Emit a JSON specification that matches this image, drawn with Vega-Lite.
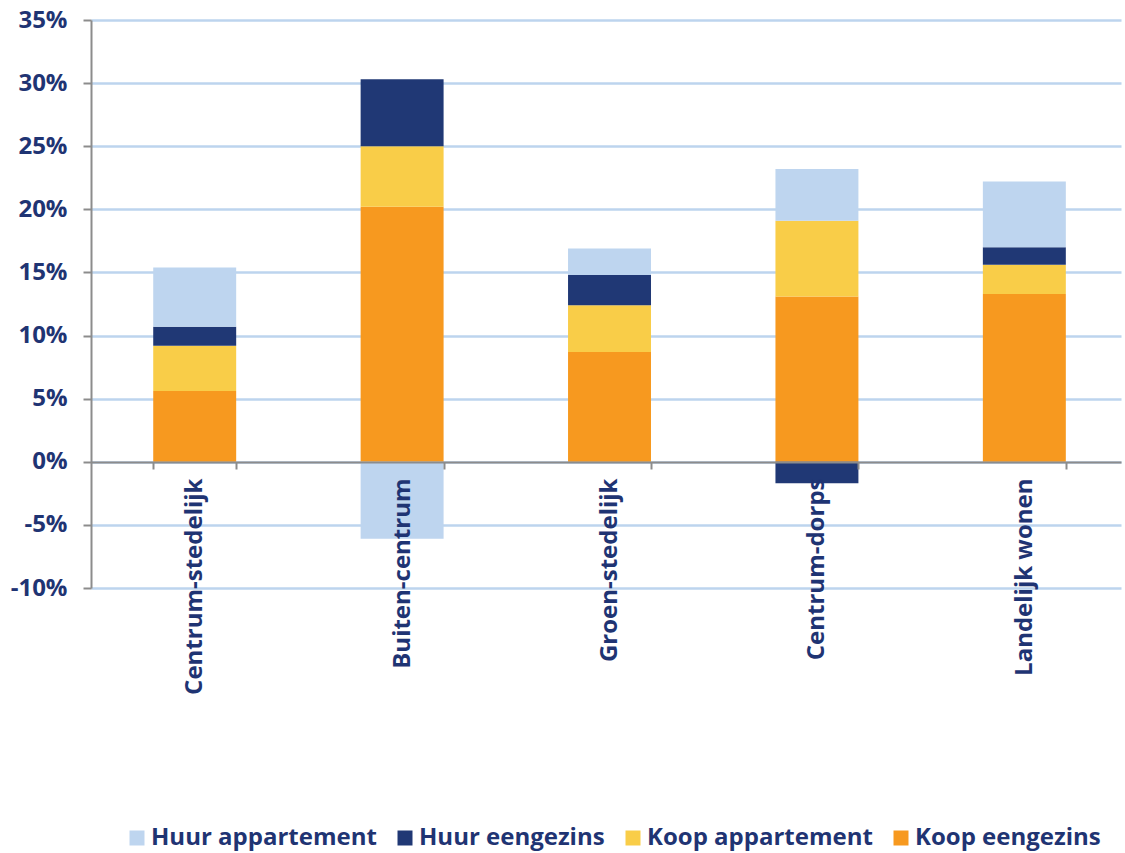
{
  "$schema": "https://vega.github.io/schema/vega-lite/v6.json",
  "autosize": {"type": "none"},
  "width": 1030,
  "height": 568,
  "padding": {"left": 91, "top": 20, "right": 4, "bottom": 265},
  "background": "white",
  "data": {
    "values": [
      {"woonmilieu": "Centrum-stedelijk", "type": "Koop eengezins", "aandeel": 5.6},
      {"woonmilieu": "Centrum-stedelijk", "type": "Koop appartement", "aandeel": 3.6},
      {"woonmilieu": "Centrum-stedelijk", "type": "Huur eengezins", "aandeel": 1.5},
      {"woonmilieu": "Centrum-stedelijk", "type": "Huur appartement", "aandeel": 4.7},
      {"woonmilieu": "Buiten-centrum", "type": "Koop eengezins", "aandeel": 20.2},
      {"woonmilieu": "Buiten-centrum", "type": "Koop appartement", "aandeel": 4.8},
      {"woonmilieu": "Buiten-centrum", "type": "Huur eengezins", "aandeel": 5.3},
      {"woonmilieu": "Buiten-centrum", "type": "Huur appartement", "aandeel": -6.1},
      {"woonmilieu": "Groen-stedelijk", "type": "Koop eengezins", "aandeel": 8.7},
      {"woonmilieu": "Groen-stedelijk", "type": "Koop appartement", "aandeel": 3.7},
      {"woonmilieu": "Groen-stedelijk", "type": "Huur eengezins", "aandeel": 2.4},
      {"woonmilieu": "Groen-stedelijk", "type": "Huur appartement", "aandeel": 2.1},
      {"woonmilieu": "Centrum-dorps", "type": "Koop eengezins", "aandeel": 13.1},
      {"woonmilieu": "Centrum-dorps", "type": "Koop appartement", "aandeel": 6.0},
      {"woonmilieu": "Centrum-dorps", "type": "Huur eengezins", "aandeel": -1.7},
      {"woonmilieu": "Centrum-dorps", "type": "Huur appartement", "aandeel": 4.1},
      {"woonmilieu": "Landelijk wonen", "type": "Koop eengezins", "aandeel": 13.3},
      {"woonmilieu": "Landelijk wonen", "type": "Koop appartement", "aandeel": 2.3},
      {"woonmilieu": "Landelijk wonen", "type": "Huur eengezins", "aandeel": 1.4},
      {"woonmilieu": "Landelijk wonen", "type": "Huur appartement", "aandeel": 5.2}
    ]
  },
  "mark": {"type": "bar"},
  "encoding": {
    "x": {
      "field": "woonmilieu",
      "type": "nominal",
      "sort": ["Centrum-stedelijk", "Buiten-centrum", "Groen-stedelijk", "Centrum-dorps", "Landelijk wonen"],
      "scale": {"paddingInner": 0.6, "paddingOuter": 0.283, "align": 0.53},
      "axis": {
        "title": null,
        "zindex": 1,
        "offset": -126,
        "labelAngle": -90,
        "labelFont": "Open Sans",
        "labelFontWeight": "bold",
        "labelFontSize": 24,
        "labelColor": "#1F3473",
        "labelPadding": 9,
        "labelLimit": 0,
        "tickBand": "extent",
        "tickSize": 7,
        "tickColor": "#8C8C8C",
        "tickWidth": 2,
        "domainColor": "#8C8C8C",
        "domainWidth": 2,
        "grid": false
      }
    },
    "y": {
      "field": "aandeel",
      "type": "quantitative",
      "stack": "zero",
      "scale": {"domain": [-10, 35], "nice": false},
      "axis": {
        "title": null,
        "values": [-10, -5, 0, 5, 10, 15, 20, 25, 30, 35],
        "labelExpr": "datum.value + '%'",
        "labelFont": "Open Sans",
        "labelFontWeight": "bold",
        "labelFontSize": 24,
        "labelColor": "#1F3473",
        "labelPadding": 16,
        "tickSize": 8,
        "tickColor": "#8C8C8C",
        "tickWidth": 2,
        "domainColor": "#8C8C8C",
        "domainWidth": 2,
        "grid": true,
        "gridColor": "#BDD4EE",
        "gridWidth": 2.5
      }
    },
    "color": {
      "field": "type",
      "type": "nominal",
      "scale": {
        "domain": ["Huur appartement", "Huur eengezins", "Koop appartement", "Koop eengezins"],
        "range": ["#BED5EF", "#203875", "#F9CD48", "#F7991F"]
      },
      "legend": {
        "title": null,
        "orient": "none",
        "direction": "horizontal",
        "legendX": 34,
        "legendY": 806,
        "padding": 0,
        "symbolType": "square",
        "symbolSize": 225,
        "symbolStrokeWidth": 0,
        "labelFont": "Open Sans",
        "labelFontWeight": "bold",
        "labelFontSize": 24,
        "labelColor": "#1F3473",
        "labelOffset": 2,
        "labelLimit": 0,
        "columnPadding": 16
      }
    },
    "order": {"field": "type", "sort": "descending"}
  },
  "config": {
    "view": {"stroke": null}
  }
}
